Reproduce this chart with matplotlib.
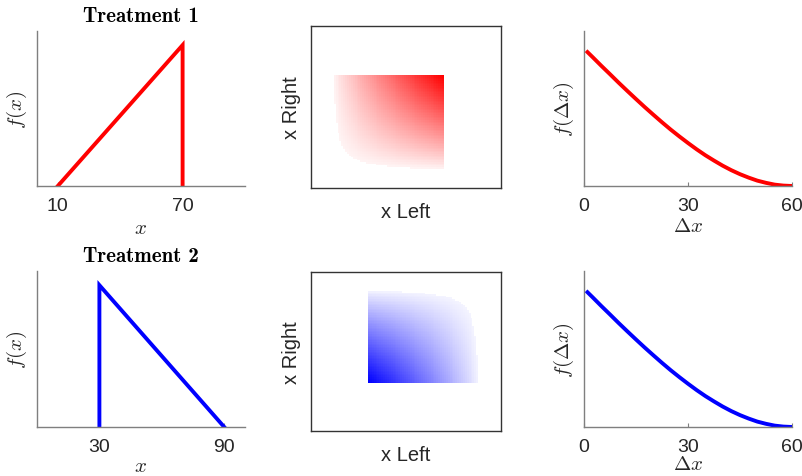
import os
import numpy as np
import matplotlib
matplotlib.use('Agg')
import matplotlib.pyplot as plt
from matplotlib.colors import LinearSegmentedColormap, PowerNorm
from matplotlib.font_manager import FontProperties

plt.rcParams['font.family'] = ['Liberation Sans', 'DejaVu Sans']
plt.rcParams['mathtext.fontset'] = 'cm'

# data
titles = ['Treatment 1', 'Treatment 2']
line_colors = ['red', 'blue']
x_pdf = [[10, 70, 70], [30, 30, 90]]
f_pdf = [[0, 0.0333, 0], [0, 0.0333, 0]]
x_ticks = [[10, 70], [30, 90]]
supports = [[10, 70], [30, 90]]
dx = [1, 2.5, 5, 7.5, 10, 12.5, 15, 17.5, 20, 22.5, 25, 27.5, 30, 32.5, 35,
      37.5, 40, 42.5, 45, 47.5, 50, 52.5, 55, 57.5, 60]
f_dx = [0.975, 0.938, 0.875, 0.814, 0.752, 0.692, 0.633, 0.575, 0.519, 0.464,
        0.411, 0.361, 0.313, 0.267, 0.224, 0.185, 0.148, 0.115, 0.086, 0.061,
        0.039, 0.023, 0.010, 0.003, 0.0]
dx_ticks = [0, 30, 60]

W, H = 803, 477
fig = plt.figure(figsize=(W / 100, H / 100), dpi=100)

def rect(x0, y0, x1, y1):
    return [x0 / W, 1 - y1 / H, (x1 - x0) / W, (y1 - y0) / H]

left_boxes = [rect(37, 32, 245, 187), rect(37, 272, 245, 428)]
mid_boxes = [rect(311, 27, 501, 189), rect(311, 273, 501, 432)]
right_boxes = [rect(584, 32, 792, 187), rect(584, 272, 792, 428)]

spine_gray = '#7f7f7f'
text_col = '#262626'
title_font = FontProperties(fname=os.path.join(matplotlib.get_data_path(),
                                               'fonts', 'ttf', 'cmb10.ttf'),
                            size=15)

def style_open(ax):
    for s in ['top', 'right']:
        ax.spines[s].set_visible(False)
    for s in ['left', 'bottom']:
        ax.spines[s].set_color(spine_gray)
        ax.spines[s].set_linewidth(1.0)
    ax.set_yticks([])
    ax.tick_params(axis='x', direction='in', length=3, color=spine_gray,
                   labelsize=14, labelcolor=text_col, pad=8)

for i in range(2):
    col = line_colors[i]
    xpad = 3 if i == 0 else 1

    # marginal density
    ax = fig.add_axes(left_boxes[i])
    ax.plot(x_pdf[i], f_pdf[i], color=col, lw=2.8, solid_joinstyle='miter')
    ax.set_xlim(0, 100)
    ax.set_ylim(0, 0.0333 * 1.1)
    style_open(ax)
    ax.set_xticks(x_ticks[i])
    ax.set_xlabel(r'$x$', fontsize=15, color=text_col, labelpad=xpad)
    ax.set_ylabel(r'$f(x)$', fontsize=15, color=text_col, labelpad=6)
    ax.set_title(titles[i], fontproperties=title_font, pad=7)

    # joint density of the two draws (product of the marginals)
    ax = fig.add_axes(mid_boxes[i])
    cmap = LinearSegmentedColormap.from_list('c', ['white', col])
    lo, hi = supports[i]
    edges = np.arange(lo, hi + 1, 1.0)
    centres = (edges[:-1] + edges[1:]) / 2
    marg = np.interp(centres, x_pdf[i], f_pdf[i])
    joint = np.outer(marg, marg)
    joint = joint / joint.max()
    joint = np.ma.masked_less(joint, 0.03)
    ax.pcolormesh(edges, edges, joint, cmap=cmap,
                  norm=PowerNorm(gamma=0.88, vmin=0, vmax=1),
                  shading='flat', rasterized=True)
    ax.set_xlim(0, 100)
    ax.set_ylim(0, 100)
    ax.set_xticks([])
    ax.set_yticks([])
    for s in ax.spines.values():
        s.set_color('#333333')
        s.set_linewidth(1.0)
    ax.set_xlabel('x Left', fontsize=14.5, color=text_col, labelpad=10)
    ax.set_ylabel('x Right', fontsize=14.5, color=text_col, labelpad=7)

    # density of the difference
    ax = fig.add_axes(right_boxes[i])
    ax.plot(dx, f_dx, color=col, lw=2.8)
    ax.set_xlim(0, 60)
    ax.set_ylim(0, 0.975 / 0.864)
    style_open(ax)
    ax.set_xticks(dx_ticks)
    ax.set_xlabel(r'$\Delta x$', fontsize=15, color=text_col, labelpad=xpad - 2)
    ax.set_ylabel(r'$f(\Delta x)$', fontsize=15, color=text_col, labelpad=6)

fig.savefig('out.png', dpi=100)
